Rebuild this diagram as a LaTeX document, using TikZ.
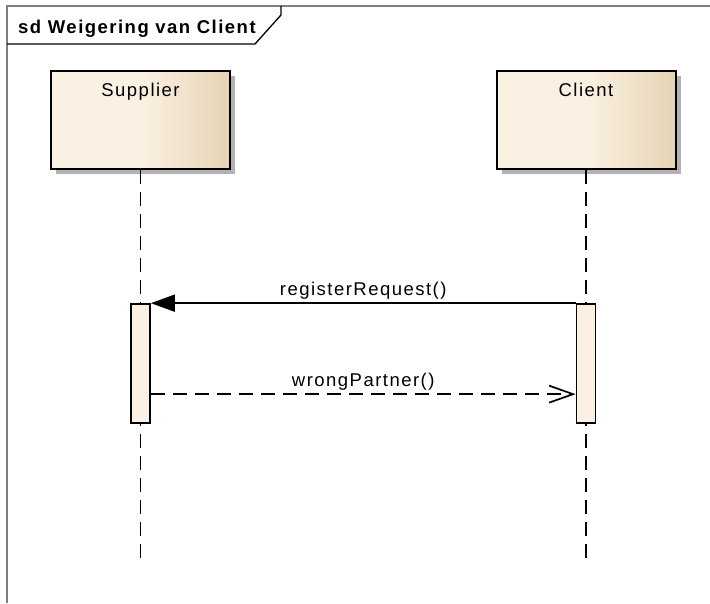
\documentclass[tikz,border=0pt]{standalone}
\usepackage{fontspec}
\newfontfamily\eafont[LetterSpace=8]{Liberation Sans}
\usetikzlibrary{arrows.meta, positioning, shadows}

\definecolor{headlight}{HTML}{FBF1E3}
\definecolor{headdark}{HTML}{E6D3B3}
\definecolor{actfill}{HTML}{FBF0E2}
\definecolor{framegray}{HTML}{7F7F7F}

\begin{document}
\begin{tikzpicture}[
    x=1pt, y=-1pt,
    font=\eafont\fontsize{18.5}{22}\selectfont,
    % Lifeline heads and activation bars
    head/.style={rectangle, draw=black, line width=2pt, minimum width=179pt, inner xsep=0pt, inner ysep=0pt, text height=25pt, text depth=73pt, left color=headlight, right color=headdark, middle color=headlight, drop shadow={shadow xshift=5pt, shadow yshift=-5pt, fill=black!30, opacity=1}},
    activation/.style={rectangle, draw=black, line width=1.7pt, fill=actfill, minimum width=19pt, minimum height=119pt, inner sep=0pt},
    % Edge styles
    lifeline/.style={draw=black, line width=1.7pt, dash pattern=on 14pt off 8pt},
    msg/.style={draw=black, line width=1.7pt, -{Triangle[length=24pt, width=17pt]}},
    reply/.style={draw=black, line width=1.7pt, dash pattern=on 14pt off 8pt, -{Straight Barb[length=24pt, width=17pt, line width=1.7pt]}},
    msglabel/.style={midway, above, inner sep=3pt},
    % Frame
    frame/.style={draw=framegray, line width=2pt},
    tab/.style={draw=black, line width=1.3pt}
]
\useasboundingbox (0,0) rectangle (710,603);

% -----------------------------------------------------------
% Frame with title tab
% -----------------------------------------------------------
\draw[frame] (7,603) -- (7,6) -- (710,6);
\draw[tab] (7,44) -- (255,44) -- (281,15) -- (281,6);
\node[anchor=base west, inner sep=0pt, font=\eafont\bfseries\fontsize{18.5}{22}\selectfont] (title) at (18,33) {sd Weigering van Client};

% -----------------------------------------------------------
% Lifelines
% -----------------------------------------------------------
\node[head] (supplier) at (140.5,120) {Supplier};
\node[head] (client) at (586,120) {Client};

\coordinate (supplierEnd) at (140.5,559);
\coordinate (clientEnd) at (586,559);

\draw[lifeline] (supplier.south) -- (supplierEnd);
\draw[lifeline] (client.south) -- (clientEnd);

% Activation bars
\node[activation] (supplierAct) at (140.5,363.5) {};
\node[activation] (clientAct) at (586,363.5) {};

% -----------------------------------------------------------
% Messages
% -----------------------------------------------------------
\draw[msg] (clientAct.north west) -- node[msglabel] {registerRequest()} (supplierAct.north east);
\draw[reply] ([yshift=-91pt]supplierAct.north east) -- node[msglabel] {wrongPartner()} ([yshift=-91pt]clientAct.north west);

\end{tikzpicture}
\end{document}
